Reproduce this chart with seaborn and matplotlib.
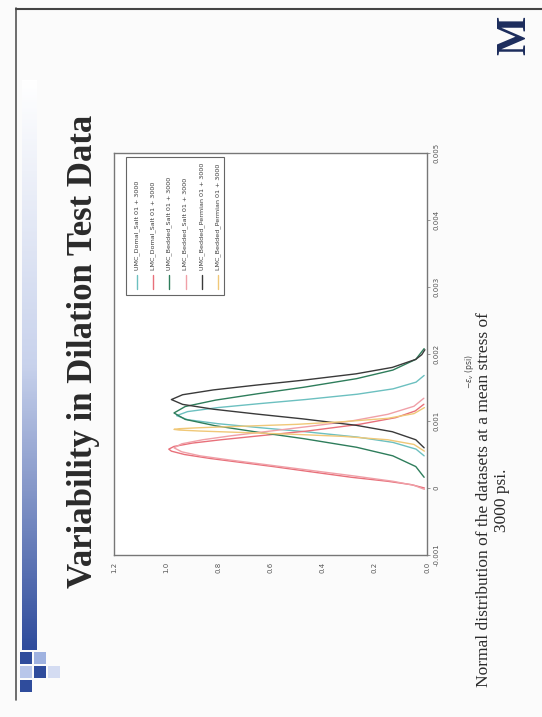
import numpy as np
import pandas as pd
import seaborn as sns
import matplotlib.pyplot as plt
from matplotlib.patches import Rectangle
from matplotlib.lines import Line2D

# data (strain in units of 0.001, normalised density)
names = ["UMC_Domal_Salt 01 + 3000", "LMC_Domal_Salt 01 + 3000",
         "UMC_Bedded_Salt 01 + 3000", "LMC_Bedded_Salt 01 + 3000",
         "UMC_Bedded_Permian 01 + 3000", "LMC_Bedded_Permian 01 + 3000"]
colors = ["#6cc0c0", "#e8707a", "#2e7d5b", "#f0a0a8", "#3a3a3a", "#f0c878"]

umc_domal_strain = [0.48, 0.58, 0.68, 0.76, 0.84, 0.90, 0.96, 1.02, 1.08, 1.14, 1.20, 1.26, 1.32, 1.40, 1.48, 1.58, 1.68]
umc_domal_dens = [0.011, 0.042, 0.130, 0.267, 0.467, 0.640, 0.802, 0.918, 0.96, 0.918, 0.802, 0.640, 0.467, 0.267, 0.130, 0.042, 0.011]

lmc_domal_strain = [0.00, 0.05, 0.10, 0.16, 0.25, 0.32, 0.38, 0.44, 0.50, 0.55, 0.58, 0.62, 0.67, 0.72, 0.78, 0.85, 0.95, 1.05, 1.15, 1.25]
lmc_domal_dens = [0.01, 0.06, 0.15, 0.29, 0.46, 0.59, 0.71, 0.83, 0.93, 0.98, 0.99, 0.97, 0.90, 0.79, 0.64, 0.46, 0.26, 0.12, 0.045, 0.012]

umc_bedded_strain = [0.16, 0.32, 0.48, 0.608, 0.736, 0.832, 0.928, 1.024, 1.12, 1.216, 1.312, 1.408, 1.504, 1.632, 1.76, 1.92, 2.08]
umc_bedded_dens = [0.011, 0.043, 0.131, 0.270, 0.472, 0.647, 0.810, 0.927, 0.97, 0.927, 0.810, 0.647, 0.472, 0.270, 0.131, 0.043, 0.011]

lmc_bedded_strain = [-0.02, 0.04, 0.10, 0.18, 0.28, 0.35, 0.42, 0.48, 0.54, 0.60, 0.66, 0.72, 0.78, 0.85, 0.92, 1.00, 1.10, 1.22, 1.34]
lmc_bedded_dens = [0.01, 0.05, 0.13, 0.28, 0.48, 0.62, 0.76, 0.87, 0.94, 0.97, 0.94, 0.86, 0.75, 0.60, 0.45, 0.29, 0.15, 0.05, 0.012]

umc_perm_strain = [0.60, 0.72, 0.84, 0.936, 1.032, 1.104, 1.176, 1.248, 1.32, 1.392, 1.464, 1.536, 1.608, 1.704, 1.80, 1.92, 1.99, 2.064]
umc_perm_dens = [0.011, 0.043, 0.133, 0.272, 0.477, 0.654, 0.819, 0.937, 0.98, 0.937, 0.819, 0.654, 0.477, 0.272, 0.133, 0.043, 0.020, 0.008]

lmc_perm_strain = [0.55, 0.65, 0.72, 0.77, 0.80, 0.83, 0.85, 0.865, 0.875, 0.885, 0.90, 0.92, 0.95, 0.99, 1.04, 1.11, 1.20]
lmc_perm_dens = [0.01, 0.05, 0.15, 0.32, 0.50, 0.72, 0.87, 0.95, 0.97, 0.95, 0.87, 0.72, 0.50, 0.32, 0.15, 0.05, 0.01]

strain_ticks = [-0.001, 0, 0.001, 0.002, 0.003, 0.004, 0.005]
strain_labels = ["-0.001", "0", "0.001", "0.002", "0.003", "0.004", "0.005"]
dens_ticks = [0.0, 0.2, 0.4, 0.6, 0.8, 1.0, 1.2]
dens_labels = ["0.0", "0.2", "0.4", "0.6", "0.8", "1.0", "1.2"]

series = [(umc_domal_strain, umc_domal_dens), (lmc_domal_strain, lmc_domal_dens),
          (umc_bedded_strain, umc_bedded_dens), (lmc_bedded_strain, lmc_bedded_dens),
          (umc_perm_strain, umc_perm_dens), (lmc_perm_strain, lmc_perm_dens)]
frames = []
for name, (s, d) in zip(names, series):
    frames.append(pd.DataFrame({"strain": np.array(s) * 1e-3, "density": d, "series": name}))
df = pd.concat(frames, ignore_index=True)

sns.set_style("white")
plt.rcParams["font.family"] = ["DejaVu Sans"]

W, H = 542, 717
fig = plt.figure(figsize=(W / 100, H / 100), dpi=100)
fig.patch.set_facecolor("#fbfbfb")


def fx(x):
    return x / W


def fy(y):
    return 1 - y / H


# the slide is scanned rotated, so the chart is drawn sideways
ax = fig.add_axes([fx(114), fy(555), fx(427) - fx(114), fy(153) - fy(555)])
ax.set_facecolor("white")
sns.lineplot(data=df, x="density", y="strain", hue="series", palette=colors,
             hue_order=names, orient="y", estimator=None, sort=True,
             linewidth=1.0, legend=False, ax=ax)
ax.set_xlim(1.2, 0.0)
ax.set_ylim(-0.001, 0.005)
ax.set_xticks(dens_ticks)
ax.set_xticklabels(dens_labels, rotation=90, fontsize=5, color="#555555")
ax.yaxis.tick_right()
ax.set_yticks(strain_ticks)
ax.set_yticklabels(strain_labels, rotation=90, va="center", fontsize=5, color="#555555")
ax.tick_params(length=2, width=0.6, color="#888888", pad=3)
ax.set_xlabel("")
ax.yaxis.set_label_position("right")
ax.set_ylabel(r"$-\varepsilon_v$ (psi)", rotation=90, fontsize=5.5, color="#444444")
ax.yaxis.set_label_coords((463 - 114) / 313, 0.455)
for sp in ax.spines.values():
    sp.set_color("#777777")
    sp.set_linewidth(1.0)

# legend, also sideways
lx0, lx1 = (126 - 114) / 313, (224 - 114) / 313
ly0, ly1 = (555 - 295) / 402, (555 - 157) / 402
ax.add_patch(Rectangle((lx0, ly0), lx1 - lx0, ly1 - ly0, transform=ax.transAxes,
                       facecolor="white", edgecolor="#666666", linewidth=0.8, zorder=5))
for i, (name, c) in enumerate(zip(names, colors)):
    px = (137 + i * 16.2 - 114) / 313
    ax.add_line(Line2D([px, px], [0.662, 0.697], transform=ax.transAxes,
                       color=c, linewidth=1.0, zorder=6))
    ax.text(px, 0.708, name, transform=ax.transAxes, rotation=90, ha="center",
            va="bottom", fontsize=4.6, color="#3a3a3a", zorder=6)

# slide decoration
fig.text(fx(84), fy(351), "Variability in Dilation Test Data", rotation=90,
         ha="center", va="center", fontsize=25, fontweight="bold",
         family="Liberation Serif", color="#2a2a2a")
fig.text(fx(493), fy(500), "Normal distribution of the datasets at a mean stress of\n3000 psi.",
         rotation=90, ha="center", va="center", multialignment="center",
         fontsize=12.5, family="Liberation Serif", color="#2a2a2a", linespacing=1.1)
fig.text(fx(515), fy(35), "M", rotation=90, ha="center", va="center", fontsize=30,
         fontweight="bold", family="Liberation Serif", color="#1c2c5c")

# left blue strip
grad = fig.add_axes([fx(22), fy(650), fx(37) - fx(22), fy(80) - fy(650)])
grad.imshow(np.linspace(0, 1, 200).reshape(-1, 1), aspect="auto", origin="upper",
            cmap=sns.blend_palette(["#ffffff", "#c8d2ec", "#2f4c9c"], as_cmap=True))
grad.axis("off")
for (x, y, c) in [(20, 652, "#2f4c9c"), (34, 652, "#9fb2e0"), (20, 666, "#b8c6ea"),
                  (34, 666, "#2f4c9c"), (20, 680, "#2f4c9c"), (48, 666, "#d4dcf2")]:
    fig.patches.append(Rectangle((fx(x), fy(y + 12)), fx(12), 12 / H, transform=fig.transFigure,
                                 facecolor=c, edgecolor="none"))

fig.lines.append(Line2D([fx(16), fx(16)], [fy(8), fy(700)], transform=fig.transFigure,
                        color="#555555", linewidth=1.2))
fig.lines.append(Line2D([fx(16), fx(542)], [fy(9), fy(9)], transform=fig.transFigure,
                        color="#444444", linewidth=1.5))

fig.savefig("out.png", dpi=100, facecolor=fig.get_facecolor())
